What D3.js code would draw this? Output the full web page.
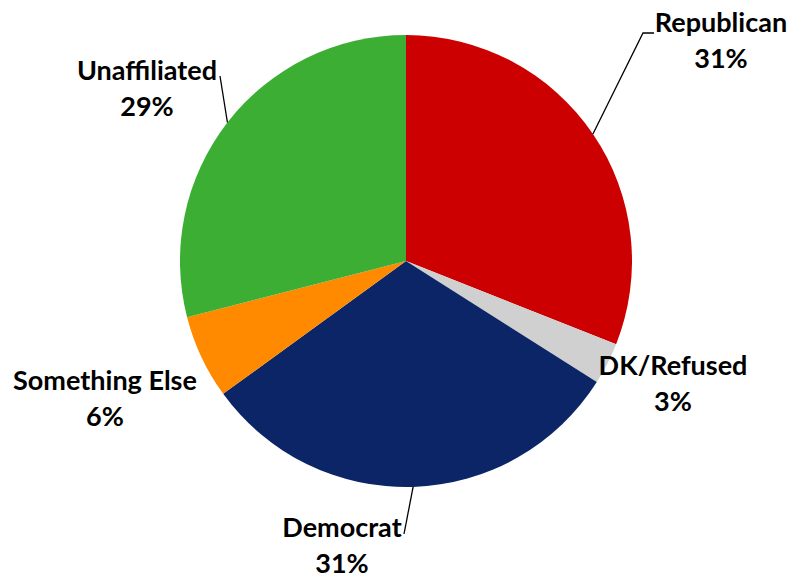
<!DOCTYPE html>
<html>
<head>
<meta charset="utf-8">
<script src="https://cdn.jsdelivr.net/npm/d3@7"></script>
<style>
  html, body { margin: 0; padding: 0; background: #fff; }
  svg { display: block; }
</style>
</head>
<body>
<svg id="chart" width="791" height="581"></svg>
<script>
// ----- Data (clockwise from 12 o'clock) -----
const categories = ["Republican", "DK/Refused", "Democrat", "Something Else", "Unaffiliated"];
const shares     = [31, 3, 31, 6, 29];
const colors     = ["#CC0000", "#D0D0D0", "#0B2566", "#FF8A00", "#3CAE33"];

// ----- Layout -----
const W = 791, H = 581;
const CX = 406, CY = 261, R = 226;
const FONT = "Lato, 'Open Sans', sans-serif";
const FONT_SIZE = 27;
const LINE_GAP = 36;

// label anchor (centre x, first baseline y) per slice, in page pixels
const labelAnchor = [[721, 32], [673, 375], [342, 537], [105, 390], [147, 80]];
// leader line end points (null = no leader); Republican gets a short elbow
const leaderEnd = [[[643, 33], [654, 33]], null, [[404, 534]], null, [[220, 76]]];

const svg = d3.select("#chart");

const pie = d3.pie().value(d => d).sort(null);
const arcs = pie(shares);

const arc = d3.arc().innerRadius(0).outerRadius(R);
const edge = d3.arc().innerRadius(R).outerRadius(R);

const g = svg.append("g").attr("transform", `translate(${CX},${CY})`);

g.selectAll("path.slice")
  .data(arcs)
  .join("path")
  .attr("class", "slice")
  .attr("d", arc)
  .attr("fill", (d, i) => colors[i]);

// leader lines
const line = d3.line();
arcs.forEach((d, i) => {
  if (!leaderEnd[i]) return;
  const [sx, sy] = edge.centroid(d);
  const pts = [[CX + sx, CY + sy]].concat(leaderEnd[i]);
  svg.append("path")
    .attr("d", line(pts))
    .attr("fill", "none")
    .attr("stroke", "#000")
    .attr("stroke-width", 1.3);
});

// labels
const labels = svg.selectAll("text.lbl")
  .data(arcs)
  .join("text")
  .attr("class", "lbl")
  .attr("text-anchor", "middle")
  .attr("font-family", FONT)
  .attr("font-size", FONT_SIZE)
  .attr("font-weight", 700)
  .attr("fill", "#000");

labels.append("tspan")
  .attr("x", (d, i) => labelAnchor[i][0])
  .attr("y", (d, i) => labelAnchor[i][1])
  .text((d, i) => categories[i]);

labels.append("tspan")
  .attr("x", (d, i) => labelAnchor[i][0])
  .attr("y", (d, i) => labelAnchor[i][1] + LINE_GAP)
  .text(d => d.data + "%");
</script>
</body>
</html>
